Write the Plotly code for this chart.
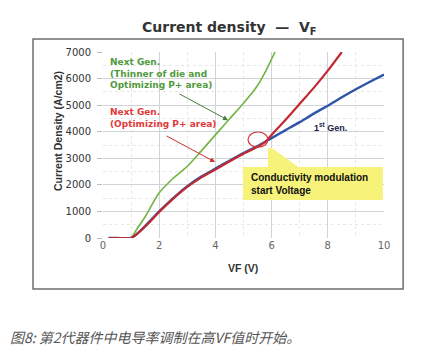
import plotly.graph_objects as go

# ---- data ----
gen1_x = [0.2, 0.5, 1.0, 1.2, 1.5, 2.0, 2.5, 3.0, 3.5, 4.0, 4.5, 5.0, 5.5, 5.8, 6.0, 6.5, 7.0, 7.5, 8.0, 8.5, 9.0, 9.5, 10.0]
gen1_y = [0, 0, 0, 150, 450, 1000, 1500, 1950, 2310, 2610, 2910, 3200, 3460, 3640, 3760, 4060, 4360, 4680, 4980, 5300, 5600, 5880, 6150]

red_x = [0.2, 0.5, 1.0, 1.2, 1.5, 2.0, 2.5, 3.0, 3.5, 4.0, 4.5, 5.0, 5.5, 5.8, 6.0, 6.5, 7.0, 7.5, 8.0, 8.5]
red_y = [0, 0, 0, 140, 430, 980, 1480, 1920, 2280, 2580, 2880, 3170, 3430, 3640, 3880, 4450, 5050, 5650, 6300, 7000]

green_x = [0.2, 0.5, 0.98, 1.2, 1.5, 2.0, 2.5, 3.0, 3.5, 4.0, 4.5, 5.0, 5.5, 5.8, 6.12]
green_y = [0, 0, 0, 330, 800, 1700, 2250, 2700, 3280, 3880, 4480, 5070, 5740, 6300, 7000]

x_ticks = [0, 2, 4, 6, 8, 10]
y_ticks = [0, 1000, 2000, 3000, 4000, 5000, 6000, 7000]

title_text = "Current density  —  V<sub>F</sub>"
x_title = "VF (V)"
y_title = "Current Density (A/cm2)"
green_label = "Next Gen.<br>(Thinner of die and<br>Optimizing P+ area)"
red_label = "Next Gen.<br>(Optimizing P+ area)"
gen1_label = "1<sup>st</sup> Gen."
box_label = "Conductivity modulation<br>start Voltage"
caption = "图8: 第2代器件中电导率调制在高VF值时开始。"

fig = go.Figure()
fig.add_trace(go.Scatter(x=green_x, y=green_y, mode="lines", line_shape="spline",
                         line=dict(color="#72b443", width=1.6, smoothing=0.7), showlegend=False))
fig.add_trace(go.Scatter(x=gen1_x, y=gen1_y, mode="lines", line_shape="spline",
                         line=dict(color="#2f55a8", width=2.4, smoothing=0.6), showlegend=False))
fig.add_trace(go.Scatter(x=red_x, y=red_y, mode="lines", line_shape="spline",
                         line=dict(color="#c02a30", width=2.2, smoothing=0.6), showlegend=False))

font_main = "Liberation Sans, Arial, sans-serif"

# the page body adds an 8px offset, so the figure is 8px smaller and margins compensate
fig.update_layout(
    width=413, height=354,
    margin=dict(l=95, r=37, t=44, b=124),
    paper_bgcolor="white", plot_bgcolor="white",
    font=dict(family=font_main, color="#333"),
    xaxis=dict(range=[0, 10], tickvals=x_ticks, showgrid=True, gridcolor="#cfd4d8",
               gridwidth=1, zeroline=False, showline=False,
               tickfont=dict(size=10, color="#666", family="DejaVu Sans"),
               minor=dict(dtick=1, showgrid=True, gridcolor="#e6e6e6", griddash="dot")),
    yaxis=dict(range=[0, 7000], tickvals=y_ticks, showgrid=True, gridcolor="#cfd4d8",
               gridwidth=1, zeroline=False, showline=False,
               ticks="outside", ticklen=5, tickcolor="#bbb", ticklabelstandoff=4,
               tickfont=dict(size=10, color="#333", family="DejaVu Sans"),
               minor=dict(dtick=500, showgrid=True, gridcolor="#e6e6e6", griddash="dot")),
)

# axis titles
fig.add_annotation(xref="paper", yref="paper", x=-0.16, y=0.575, text="<b>" + y_title + "</b>",
                   textangle=-90, showarrow=False, xanchor="center", yanchor="middle",
                   font=dict(size=10.5, color="#333"))
fig.add_annotation(xref="paper", yref="paper", x=0.498, y=-0.161, text="<b>" + x_title + "</b>",
                   showarrow=False, xanchor="center", yanchor="middle",
                   font=dict(size=10.5, color="#333"))

# title
fig.add_annotation(xref="paper", yref="paper", x=0.45, y=1.129, text="<b>" + title_text + "</b>",
                   showarrow=False, font=dict(size=14, color="#333", family="DejaVu Sans"),
                   xanchor="center", yanchor="middle")

# outer frame
fig.add_shape(type="rect", xref="paper", yref="paper", x0=-0.249, x1=1.068, y0=-0.274, y1=1.07,
              line=dict(color="#6e6e6e", width=1.5), fillcolor="rgba(0,0,0,0)", layer="below")

# yellow box + pointer
fig.add_shape(type="rect", xref="x", yref="y", x0=4.98, x1=9.96, y0=1430, y1=2670,
              fillcolor="#f6f27a", line=dict(width=0), layer="above")
fig.add_shape(type="path", xref="x", yref="y",
              path="M 5.87 3380 L 6.02 3380 L 6.95 2670 L 5.87 2670 Z",
              fillcolor="#f6f27a", line=dict(width=0), layer="above")
fig.add_annotation(x=5.2, y=2050, text="<b>" + box_label + "</b>", showarrow=False, align="left",
                   xanchor="left", yanchor="middle", font=dict(size=10, color="#111"))

# red circle
fig.add_shape(type="circle", xref="x", yref="y", x0=5.16, x1=5.87, y0=3420, y1=3990,
              line=dict(color="#d0343a", width=1.2), fillcolor="rgba(0,0,0,0)")

# labels
fig.add_annotation(x=0.18, y=6900, text="<b>" + green_label + "</b>", showarrow=False, align="left",
                   xanchor="left", yanchor="top", font=dict(size=9, color="#4f9a3c", family="DejaVu Sans"))
fig.add_annotation(x=0.18, y=5000, text="<b>" + red_label + "</b>", showarrow=False, align="left",
                   xanchor="left", yanchor="top", font=dict(size=9, color="#e03a3a", family="DejaVu Sans"))
fig.add_annotation(x=7.45, y=4170, text="<b>" + gen1_label + "</b>", showarrow=False, align="left",
                   xanchor="left", yanchor="middle", font=dict(size=9, color="#1c1c40"))

# arrows
fig.add_annotation(x=4.45, y=4436, ax=2.67, ay=5451, xref="x", yref="y", axref="x", ayref="y",
                   text="", showarrow=True, arrowhead=2, arrowsize=1, arrowwidth=1, arrowcolor="#4a7a3a")
fig.add_annotation(x=3.99, y=2857, ax=2.21, ay=3872, xref="x", yref="y", axref="x", ayref="y",
                   text="", showarrow=True, arrowhead=2, arrowsize=1, arrowwidth=1, arrowcolor="#d03030")

# caption
fig.add_annotation(xref="paper", yref="paper", x=-0.338, y=-0.532, text="<i>" + caption + "</i>",
                   showarrow=False, xanchor="left", yanchor="middle",
                   font=dict(size=14, color="#555", family="Noto Sans CJK SC"))

fig.write_html("out.html")
